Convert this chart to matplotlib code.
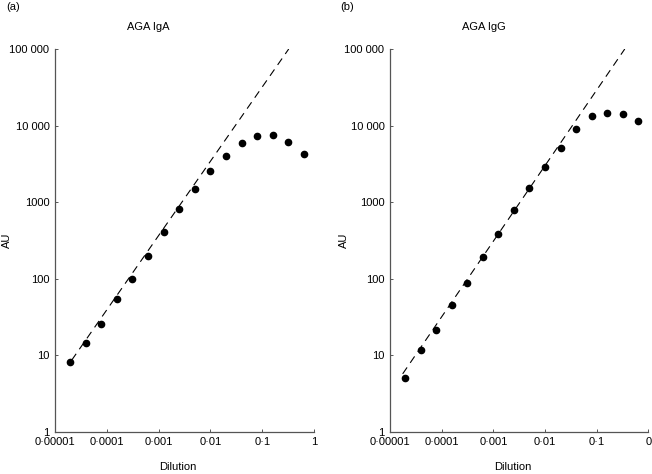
import matplotlib
matplotlib.use('Agg')
import matplotlib.pyplot as plt
from matplotlib.ticker import FixedLocator, FixedFormatter

plt.rcParams['font.family'] = ['Liberation Sans', 'DejaVu Sans']
plt.rcParams['font.size'] = 8

# dilution series (doubling)
dilution = [0.0000195, 0.000039, 0.000078, 0.000156, 0.0003125, 0.000625,
            0.00125, 0.0025, 0.005, 0.01, 0.02, 0.04, 0.08, 0.16, 0.32, 0.64]

iga = [8.1, 14.4, 25.4, 54, 98, 200, 405, 807, 1475, 2550,
       4060, 5930, 7400, 7600, 6100, 4300]
igg = [5.1, 11.8, 21, 45, 86.5, 191, 388, 797, 1530, 2850,
       5100, 8970, 13150, 14650, 14200, 11500]

# fitted lines (end points)
iga_fit_x = [0.000021, 0.325]
iga_fit_y = [8.6, 100000]
igg_fit_x = [0.0000176, 0.35]
igg_fit_y = [5.7, 100000]

x_ticks = [0.00001, 0.0001, 0.001, 0.01, 0.1, 1]
x_labels_a = ['0·00001', '0·0001', '0·001', '0·01', '0·1', '1']
x_labels_b = ['0·00001', '0·0001', '0·001', '0·01', '0·1', '0']
y_ticks = [1, 10, 100, 1000, 10000, 100000]
y_labels = ['1', '10', '100', '1000', '10 000', '100 000']

W, H = 652, 474
fig = plt.figure(figsize=(W / 100, H / 100), dpi=100)

ax_a = fig.add_axes([55 / W, 1 - 431.7 / H, 259 / W, 382.7 / H])
ax_b = fig.add_axes([390 / W, 1 - 431.7 / H, 258.3 / W, 382.7 / H])

panels = [
    (ax_a, iga, iga_fit_x, iga_fit_y, x_labels_a),
    (ax_b, igg, igg_fit_x, igg_fit_y, x_labels_b),
]

for ax, vals, fx, fy, xl in panels:
    ax.set_xscale('log')
    ax.set_yscale('log')
    ax.plot(fx, fy, color='black', lw=0.8, dashes=(7, 5))
    ax.plot(dilution, vals, 'o', color='black', markersize=4.5)
    ax.set_xlim(0.00001, 1)
    ax.set_ylim(1, 100000)
    ax.xaxis.set_major_locator(FixedLocator(x_ticks))
    ax.xaxis.set_major_formatter(FixedFormatter(xl))
    ax.yaxis.set_major_locator(FixedLocator(y_ticks))
    ax.yaxis.set_major_formatter(FixedFormatter(y_labels))
    ax.minorticks_off()
    ax.tick_params(direction='in', length=2.5, width=0.7, color='#555555',
                   labelsize=8, pad=4)
    ax.spines['top'].set_visible(False)
    ax.spines['right'].set_visible(False)
    for s in ['left', 'bottom']:
        ax.spines[s].set_color('#555555')
        ax.spines[s].set_linewidth(0.9)
    ax.set_facecolor('none')

# titles, panel letters, axis labels
fig.text(148 / W, 1 - 27 / H, 'AGA IgA', ha='center', va='center')
fig.text(484 / W, 1 - 27 / H, 'AGA IgG', ha='center', va='center')
fig.text(6 / W, 1 - 7 / H, '(a)', ha='left', va='center')
fig.text(340 / W, 1 - 7 / H, '(b)', ha='left', va='center')
fig.text(7 / W, 1 - 240 / H, 'AU', ha='center', va='center', rotation=90)
fig.text(344 / W, 1 - 240 / H, 'AU', ha='center', va='center', rotation=90)
fig.text(178 / W, 1 - 467 / H, 'Dilution', ha='center', va='center')
fig.text(513 / W, 1 - 467 / H, 'Dilution', ha='center', va='center')

fig.savefig('out.png', dpi=100)
